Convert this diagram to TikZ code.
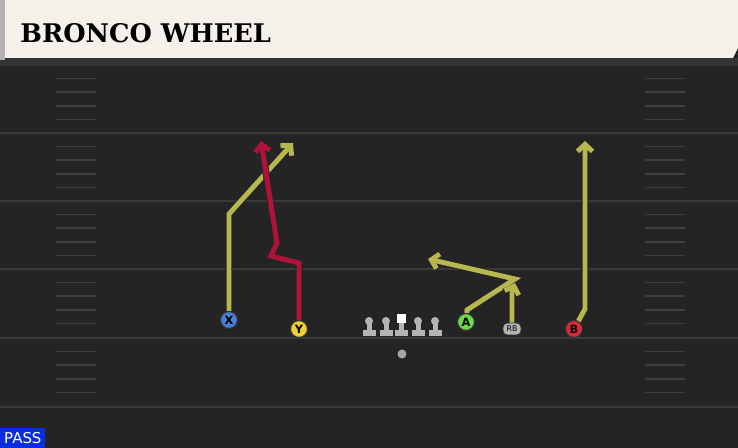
\documentclass[tikz,border=0pt]{standalone}
\usepackage{fontspec}
\setmainfont{DejaVu Serif}
\newfontfamily\sansletra{DejaVu Sans}
\usetikzlibrary{arrows.meta}

\definecolor{campo}{HTML}{242424}
\definecolor{yarda}{HTML}{3A3A3A}
\definecolor{marca}{HTML}{3E3E3E}
\definecolor{cabecera}{HTML}{F4F1EA}
\definecolor{oliva}{HTML}{B8B64E}
\definecolor{granate}{HTML}{B0123A}
\definecolor{azul}{HTML}{4A7FD8}
\definecolor{amarillo}{HTML}{F0D030}
\definecolor{verde}{HTML}{6CD84A}
\definecolor{rojo}{HTML}{E0283C}
\definecolor{gris}{HTML}{B4B4B4}
\definecolor{azulpase}{HTML}{0A2DE0}

\tikzstyle{jugador}= [circle,draw=black!80,line width=0.7pt,minimum size=0.34cm,inner sep=0pt,font=\sansletra\bfseries\fontsize{6.5}{6.5}\selectfont]
\tikzstyle{ruta}= [line width=2.8pt,line join=miter,draw=oliva,-{Straight Barb[length=4pt,width=8.5pt]},preaction={draw=black!85,line width=4pt}]
\tikzstyle{rutaroja}= [ruta,draw=granate]

\begin{document}
\begin{tikzpicture}[x=0.02cm,y=-0.02cm]
		\useasboundingbox (0,0) rectangle (738,448);
		\fill[campo] (0,0) rectangle (738,448);
		\fill[black!80] (0,58) rectangle (738,66);

		% cabecera
		\fill[gray!60] (0,0) rectangle (5,60);
		\fill[cabecera] (5,0) -- (738,0) -- (738,48) -- (733,58) -- (5,58) -- cycle;
		\node (titulo) at (20,33) [anchor=west,inner sep=0pt] {\bfseries\fontsize{14.6}{15}\selectfont BRONCO WHEEL};

		% lineas de yarda y marcas
		\foreach \y in {133,201,269,338,407}
			\draw[yarda,line width=1.1pt] (0,\y) -- (738,\y);
		\foreach \b in {65,133,201,269,338}
			\foreach \k in {1,...,4} {
				\draw[marca,line width=1pt] (56,{\b+13.6*\k}) -- (96,{\b+13.6*\k});
				\draw[marca,line width=1pt] (645,{\b+13.6*\k}) -- (685,{\b+13.6*\k});
			}

		% linea ofensiva
		\foreach \i in {369,386,418,435} {
			\fill[gris] (\i,321) circle [radius=4];
			\fill[gris] (\i-2.5,322) rectangle (\i+2.5,331);
			\fill[gris] (\i-6.5,330) rectangle (\i+6.5,336);
		}
		\fill[white] (397,314) rectangle (406,323);
		\fill[gris] (399,323) rectangle (404,331);
		\fill[gris] (395,330) rectangle (408,336);
		\node (balon) at (402,354) [circle,fill=gray!70,minimum size=0.18cm,inner sep=0pt] {};

		% jugadores
		\node (x) at (229,320) [jugador,fill=azul] {X};
		\node (y) at (299,329) [jugador,fill=amarillo] {Y};
		\node (a) at (466,322) [jugador,fill=verde] {A};
		\node (b) at (574,329) [jugador,fill=rojo] {B};
		\node (rb) at (512,329) [rectangle,rounded corners=2.5pt,draw=black!80,fill=gris,minimum width=0.36cm,minimum height=0.24cm,inner sep=0pt,font=\sansletra\fontsize{4.5}{4.5}\selectfont] {RB};

		% rutas
		\coordinate (x1) at (229,214);
		\coordinate (x2) at (293,143);
		\coordinate (y1) at (299,263);
		\coordinate (y2) at (271,256);
		\coordinate (y3) at (277,243);
		\coordinate (y4) at (261,141);
		\coordinate (a1) at (467,310);
		\coordinate (a2) at (515,279);
		\coordinate (a3) at (428,259);
		\coordinate (rb1) at (512,292);
		\coordinate (rb2) at (515,283);
		\coordinate (b1) at (585,309);
		\coordinate (b2) at (585,141);

		\draw[ruta] (x) -- (x1) -- (x2);
		\draw[rutaroja] (y) -- (y1) -- (y2) -- (y3) -- (y4);
		\draw[ruta] (a) -- (a1) -- (a2) -- (a3);
		\draw[ruta] (rb) -- (rb1) -- (rb2);
		\draw[ruta] (b) -- (b1) -- (b2);

		\node (pase) at (0,448) [anchor=south west,fill=azulpase,text=white,minimum width=0.9cm,minimum height=0.4cm,inner sep=1pt,font=\sansletra\fontsize{8.5}{9}\selectfont] {PASS};

	\end{tikzpicture}
\end{document}
